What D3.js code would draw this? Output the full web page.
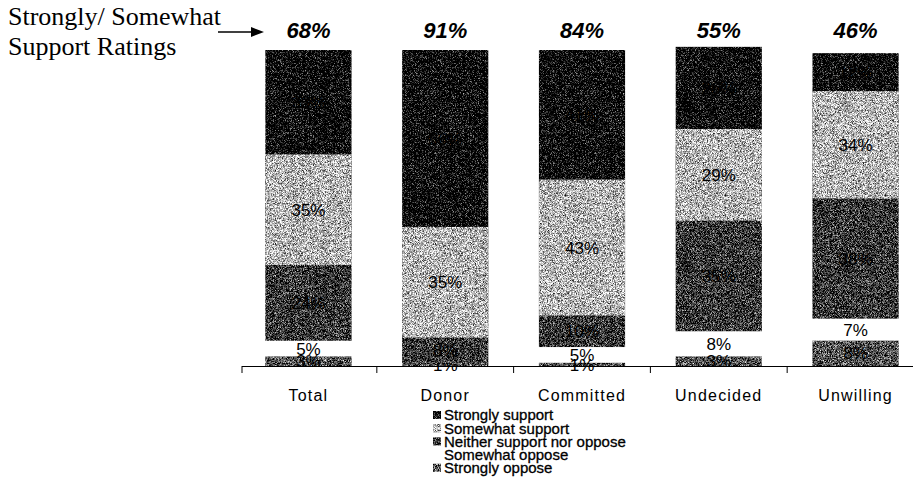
<!DOCTYPE html>
<html>
<head>
<meta charset="utf-8">
<script src="https://cdn.jsdelivr.net/npm/d3@7/dist/d3.min.js"></script>
<style>
  body { margin: 0; background: #fff; }
  text { font-family: Arial, "Liberation Sans", sans-serif; }
</style>
</head>
<body>
<svg id="chart" width="913" height="503"></svg>
<script>
// values
const groups = ["Total", "Donor", "Committed", "Undecided", "Unwilling"];
const supportRatings = ["68%", "91%", "84%", "55%", "46%"];
const seriesNames = ["Strongly support", "Somewhat support", "Neither support nor oppose", "Somewhat oppose", "Strongly oppose"];
const stronglySupport = [33, 56, 41, 26, 12];
const somewhatSupport = [35, 35, 43, 29, 34];
const neitherNor = [24, 8, 10, 35, 38];
const somewhatOppose = [5, 0, 5, 8, 7];
const stronglyOppose = [3, 1, 1, 3, 8];

const svg = d3.select("#chart");

// speckle, to get near the halftone look of the scan
const defs = svg.append("defs");
const f = defs.append("filter").attr("id", "grain")
    .attr("x", 0).attr("y", 0).attr("width", 1).attr("height", 1)
    .attr("color-interpolation-filters", "sRGB");
f.append("feTurbulence").attr("type", "fractalNoise").attr("baseFrequency", 1.6)
    .attr("numOctaves", 1).attr("seed", 4).attr("result", "n");
f.append("feColorMatrix").attr("in", "n").attr("type", "matrix")
    .attr("values", "1 0 0 0 0  1 0 0 0 0  1 0 0 0 0  0 0 0 0 1").attr("result", "g");
f.append("feComposite").attr("in", "SourceGraphic").attr("in2", "g")
    .attr("operator", "arithmetic").attr("k1", 0).attr("k2", 1).attr("k3", 2.2).attr("k4", -1.1)
    .attr("result", "mix");
f.append("feComposite").attr("in", "mix").attr("in2", "SourceAlpha").attr("operator", "in");

const keys = ["stronglyOppose", "somewhatOppose", "neitherNor", "somewhatSupport", "stronglySupport"];
const fills = {
    stronglySupport: "#000000",
    somewhatSupport: "#b4b4b4",
    neitherNor: "#353535",
    somewhatOppose: "none",
    stronglyOppose: "#555555"
};
const cols = { stronglySupport, somewhatSupport, neitherNor, somewhatOppose, stronglyOppose };

const table = groups.map((g, i) => {
    const row = { group: g };
    keys.forEach(k => row[k] = cols[k][i]);
    return row;
});

const stacked = d3.stack().keys(keys)(table);

const x = d3.scaleBand().domain(groups).range([238, 926])
    .paddingInner(0.37).paddingOuter(0.2);
const y = d3.scaleLinear().domain([0, 100]).range([366, 50]);

const layer = svg.append("g").selectAll("g")
    .data(stacked).enter().append("g");

layer.selectAll("rect")
    .data(d => d.map(v => Object.assign(v, { key: d.key })))
    .enter().append("rect")
    .attr("x", d => x(d.data.group))
    .attr("width", x.bandwidth())
    .attr("y", d => y(d[1]))
    .attr("height", d => y(d[0]) - y(d[1]))
    .attr("fill", d => fills[d.key])
    .attr("filter", d => fills[d.key] === "none" ? null : "url(#grain)");

// segment labels
layer.selectAll("text")
    .data(d => d.filter(v => v[1] - v[0] > 0))
    .enter().append("text")
    .attr("x", d => x(d.data.group) + x.bandwidth() / 2)
    .attr("y", d => (y(d[0]) + y(d[1])) / 2)
    .attr("dy", "0.36em")
    .attr("text-anchor", "middle")
    .style("font-size", "17px")
    .attr("fill", "#000")
    .text(d => (d[1] - d[0]) + "%");

// axis line with ticks between categories
const axis = svg.append("g");
axis.append("line")
    .attr("x1", 242).attr("x2", 913).attr("y1", 366.5).attr("y2", 366.5)
    .attr("stroke", "#000").attr("stroke-width", 1.2);
const bounds = [242].concat(groups.slice(1).map(g => x(g) - x.step() * x.paddingInner() / 2));
axis.selectAll(".tk").data(bounds).enter().append("line")
    .attr("x1", d => d).attr("x2", d => d)
    .attr("y1", 366).attr("y2", 373)
    .attr("stroke", "#000");

svg.append("g").selectAll("text")
    .data(groups).enter().append("text")
    .attr("x", d => x(d) + x.bandwidth() / 2)
    .attr("y", 401)
    .attr("text-anchor", "middle")
    .style("font-size", "16px")
    .style("letter-spacing", "1.2px")
    .text(d => d);

// top ratings
svg.append("g").selectAll("text")
    .data(groups).enter().append("text")
    .attr("x", d => x(d) + x.bandwidth() / 2)
    .attr("y", 38)
    .attr("text-anchor", "middle")
    .style("font-size", "22px")
    .style("font-weight", "bold")
    .style("font-style", "italic")
    .text((d, i) => supportRatings[i]);

// note at the top left
const note = svg.append("text")
    .style("font-family", "'Liberation Serif', 'Times New Roman', serif")
    .style("font-size", "26px");
note.append("tspan").attr("x", 8).attr("y", 25).text("Strongly/ Somewhat");
note.append("tspan").attr("x", 8).attr("y", 55).text("Support Ratings");

svg.append("line")
    .attr("x1", 218).attr("x2", 254).attr("y1", 32).attr("y2", 32)
    .attr("stroke", "#000").attr("stroke-width", 1.5);
svg.append("path")
    .attr("d", "M251,27 L264,32 L251,37 Z")
    .attr("fill", "#000");

// legend
const lg = svg.append("g").attr("transform", "translate(433,415)");
const item = lg.selectAll("g").data(seriesNames).enter().append("g")
    .attr("transform", (d, i) => "translate(0," + (i * 13.2) + ")");
item.append("rect")
    .attr("x", 0).attr("y", -4).attr("width", 8).attr("height", 8)
    .attr("fill", (d, i) => fills[keys[4 - i]])
    .attr("filter", (d, i) => fills[keys[4 - i]] === "none" ? null : "url(#grain)");
item.append("text")
    .attr("x", 11).attr("dy", "0.36em")
    .style("font-size", "15px")
    .style("stroke", "#000").style("stroke-width", 0.3)
    .text(d => d);
</script>
</body>
</html>
